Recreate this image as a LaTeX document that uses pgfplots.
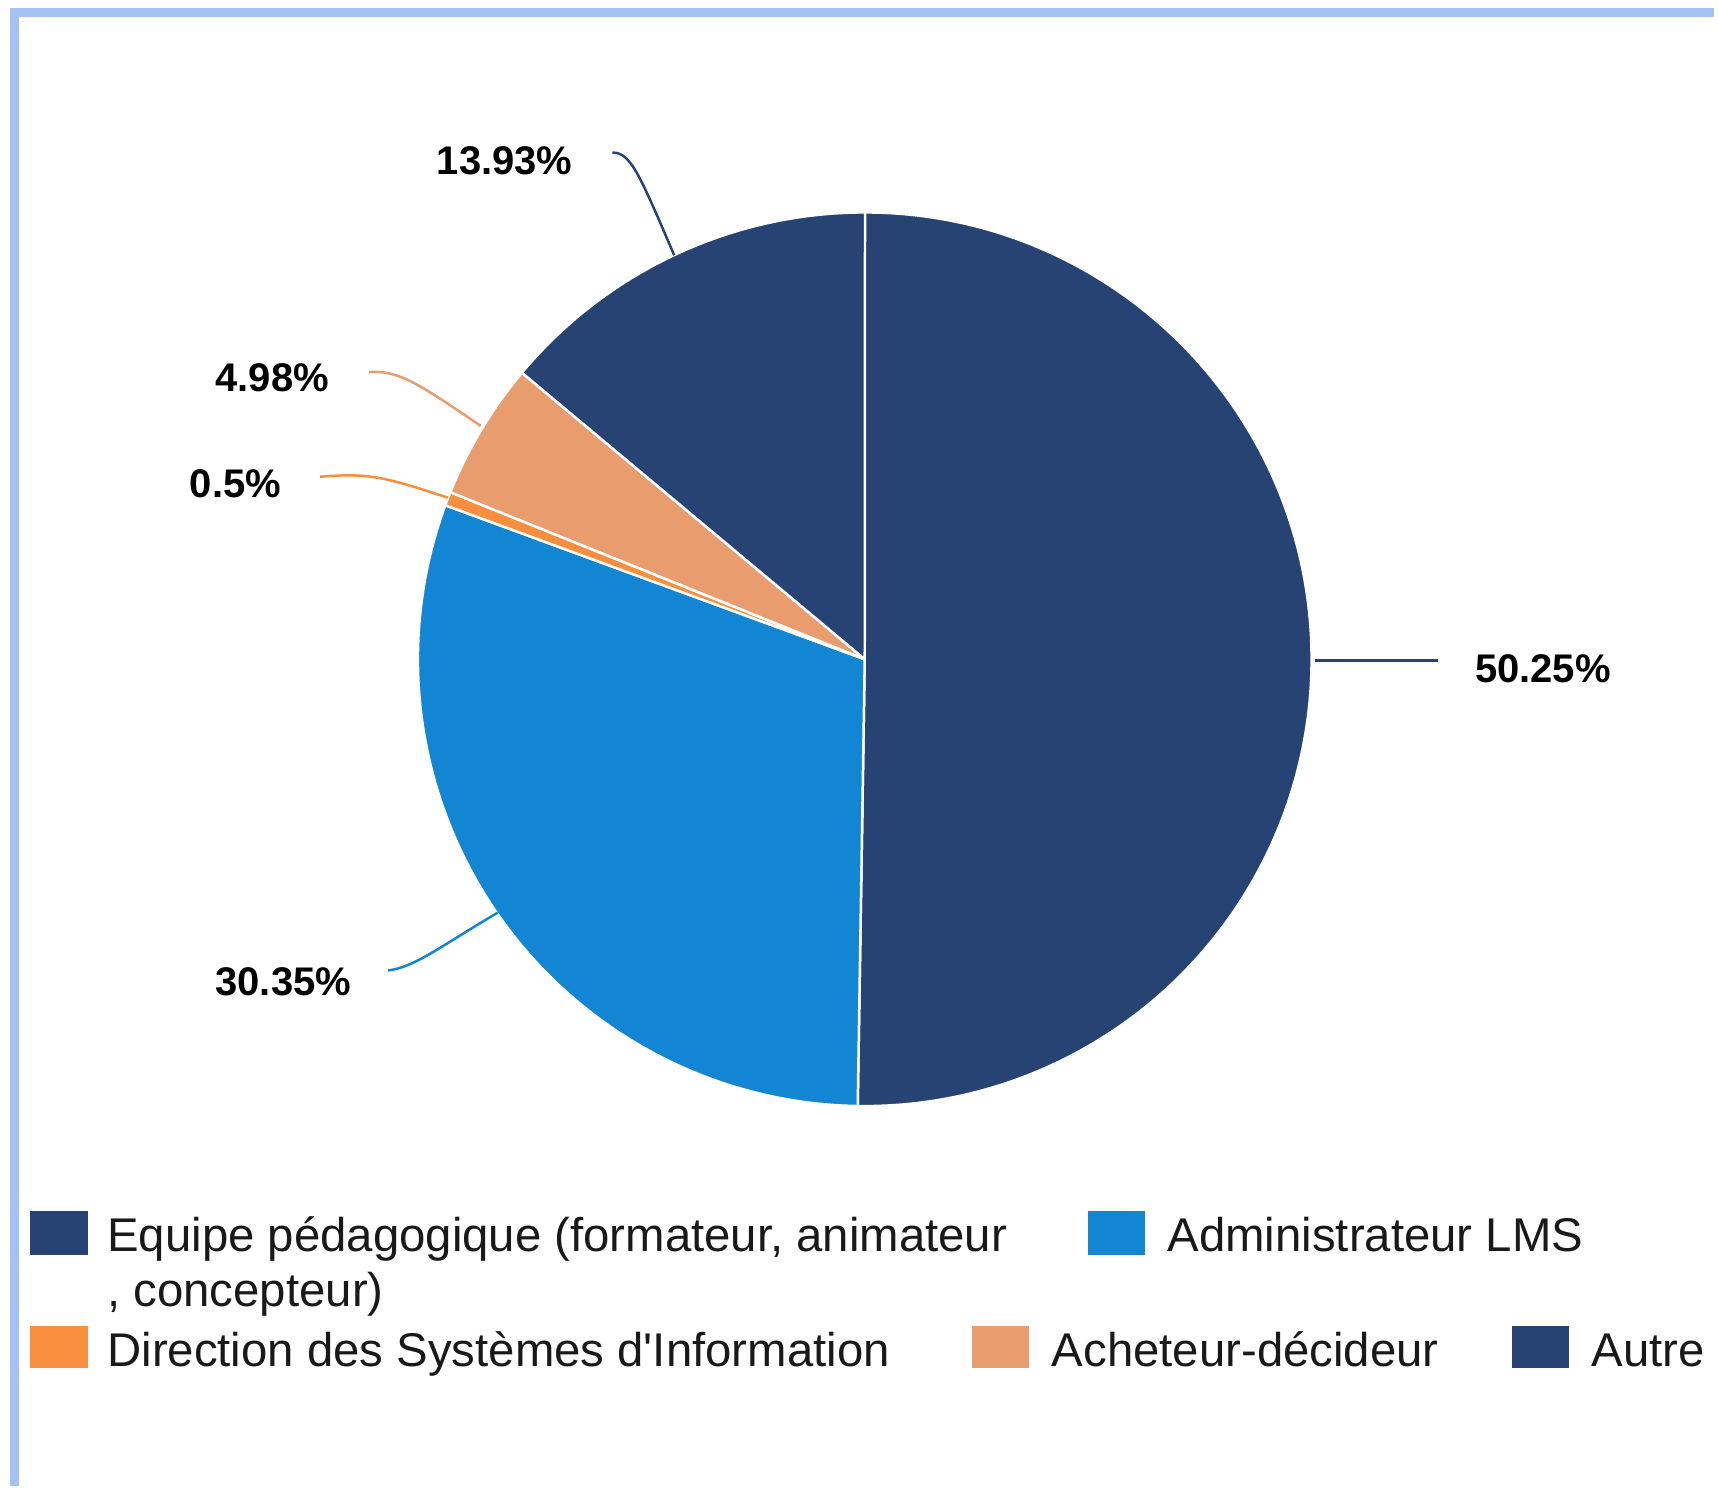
\documentclass[border=0pt]{standalone}
\usepackage{fontspec}
\setmainfont{Liberation Sans}
\usepackage{pgfplots}
\usepackage{pgfplotstable}
\pgfplotsset{compat=1.18}
\definecolor{cnavy}{RGB}{39,67,116}
\definecolor{cblue}{RGB}{18,134,210}
\definecolor{corange}{RGB}{249,142,62}
\definecolor{csalmon}{RGB}{233,156,110}
\definecolor{cframe}{RGB}{164,194,244}
\pgfplotstableread{
val col
50.25 cnavy
30.35 cblue
0.5 corange
4.98 csalmon
13.93 cnavy
}\piedata
\begin{document}
\begin{tikzpicture}
\begin{axis}[
  scale only axis, width=17.18cm, height=14.90cm,
  xmin=0, xmax=1718, ymin=0, ymax=1490,
  hide axis, clip=false]
\path (axis cs:0,0) rectangle (axis cs:1718,1490);
% frame
\draw[cframe, line width=0.9mm] (axis cs:15,0) -- (axis cs:15,1477) -- (axis cs:1718,1477);
% pie
\pgfplotstablegetrowsof{\piedata}
\pgfmathtruncatemacro\N{\pgfplotsretval-1}
\def\angA{90}
\pgfplotsforeachungrouped \i in {0,...,\N}{%
  \pgfplotstablegetelem{\i}{val}\of\piedata \let\v\pgfplotsretval
  \pgfplotstablegetelem{\i}{col}\of\piedata \let\c\pgfplotsretval
  \pgfmathsetmacro\angB{\angA-3.6*\v}%
  \edef\temp{\noexpand\fill[\c, draw=white, line width=0.25mm, line join=round] (axis cs:867,829) -- ++(\angA:4.48cm) arc[start angle=\angA, end angle=\angB, radius=4.48cm] -- cycle;}%
  \temp
  \global\let\angA\angB
}
% leader lines
\draw[cnavy, line width=0.25mm] (axis cs:1318,828) -- (axis cs:1442,828);
\draw[cnavy, line width=0.25mm] (axis cs:614,1337) .. controls (axis cs:632,1337) and (axis cs:640,1318) .. (axis cs:676,1234);
\draw[csalmon, line width=0.25mm] (axis cs:370,1117) .. controls (axis cs:400,1119) and (axis cs:420,1105) .. (axis cs:482,1063);
\draw[corange, line width=0.25mm] (axis cs:321,1012) .. controls (axis cs:370,1016) and (axis cs:385,1012) .. (axis cs:449,991);
\draw[cblue, line width=0.25mm] (axis cs:389,517) .. controls (axis cs:415,520) and (axis cs:440,540) .. (axis cs:499,575);
% labels
\tikzset{lab/.style={font=\fontsize{11.4pt}{13pt}\selectfont\bfseries, inner sep=0pt}}
\node[lab] at (axis cs:1547,819) {50.25\%};
\node[lab] at (axis cs:506,1329) {13.93\%};
\node[lab] at (axis cs:273,1111) {4.98\%};
\node[lab] at (axis cs:236,1005) {0.5\%};
\node[lab] at (axis cs:284,506) {30.35\%};
% legend
\tikzset{leg/.style={font=\fontsize{13.5pt}{16pt}\selectfont, inner sep=0pt, anchor=base west, text=black!90}}
\fill[cnavy] (axis cs:30,232) rectangle (axis cs:88,276);
\node[leg] at (axis cs:107,235) {Equipe pédagogique (formateur, animateur};
\node[leg] at (axis cs:107,180) {, concepteur)};
\fill[cblue] (axis cs:1091,232) rectangle (axis cs:1148,276);
\node[leg] at (axis cs:1170,235) {Administrateur LMS};
\fill[corange] (axis cs:30,118) rectangle (axis cs:88,161);
\node[leg] at (axis cs:107,120) {Direction des Systèmes d\textquotesingle Information};
\fill[csalmon] (axis cs:975,118) rectangle (axis cs:1032,161);
\node[leg] at (axis cs:1054,120) {Acheteur-décideur};
\fill[cnavy] (axis cs:1516,118) rectangle (axis cs:1573,161);
\node[leg] at (axis cs:1595,120) {Autre};
\end{axis}
\end{tikzpicture}
\end{document}
